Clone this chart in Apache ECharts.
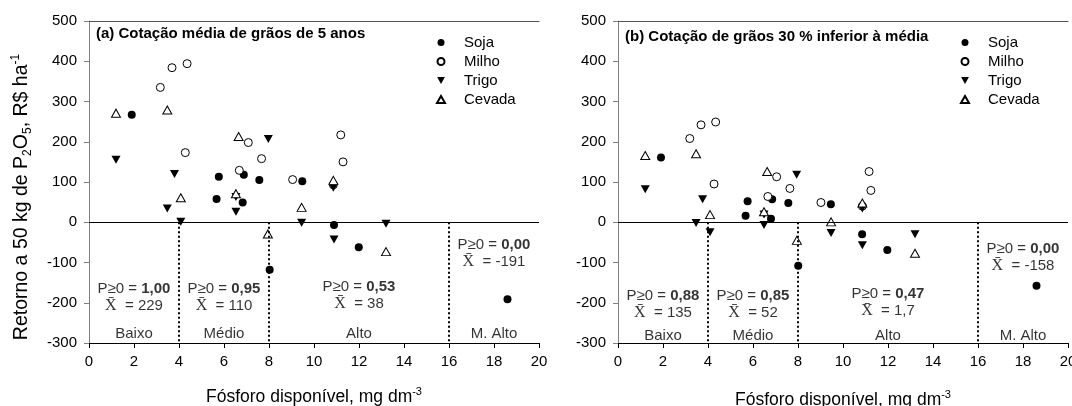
<!DOCTYPE html>
<html><head><meta charset="utf-8">
<script src="https://cdn.jsdelivr.net/npm/echarts/dist/echarts.min.js"></script>
<style>html,body{margin:0;padding:0;background:#fff}#c{width:1072px;height:406px}</style>
</head><body><div id="c"></div>
<script>
// ---- data ----
const categories = ['Soja', 'Milho', 'Trigo', 'Cevada'];
const classNames = ['Baixo', 'Médio', 'Alto', 'M. Alto'];
const classCenters = [2, 6, 12, 18];
const classBounds = [4, 8, 16];
const probA = ['1,00', '0,95', '0,53', '0,00'];
const meanA = ['229', '110', '38', '-191'];
const probB = ['0,88', '0,85', '0,47', '0,00'];
const meanB = ['135', '52', '1,7', '-158'];
const titleA = '(a) Cotação média de grãos de 5 anos';
const titleB = '(b) Cotação de grãos 30 % inferior à média';

const sojaA = [[1.9,267],[5.67,58],[5.77,113],[6.83,49],[6.88,118],[7.57,105],[8.03,-118],[9.48,102],[10.89,-7],[11.99,-62],[18.6,-191]];
const milhoA = [[3.17,335],[3.69,384],[4.36,394],[4.28,173],[6.68,129],[7.08,198],[7.67,158],[9.05,106],[11.19,217],[11.29,150],[10.86,93]];
const trigoA = [[1.2,155],[3.48,34],[3.8,120],[4.08,1],[6.53,26],[6.53,63],[7.97,207],[9.45,-1],[10.86,86],[10.89,-43],[13.2,-4]];
const cevadaA = [[1.2,271],[3.48,279],[4.08,61],[6.53,71],[6.65,213],[7.95,-29],[9.45,37],[10.86,104],[13.2,-73]];

const sojaB = [[1.91,161],[5.67,16],[5.76,52],[6.8,9],[6.85,57],[7.57,48],[8.01,-108],[9.46,45],[10.85,-30],[11.97,-69],[18.6,-158]];
const milhoB = [[3.19,208],[3.69,242],[4.34,249],[4.27,95],[6.66,64],[7.05,113],[7.64,84],[9.02,49],[11.16,126],[11.24,79],[10.86,40]];
const trigoB = [[1.21,82],[3.47,-2],[3.76,57],[4.09,-25],[6.49,-7],[6.49,19],[7.94,118],[9.47,-27],[10.86,34],[10.86,-57],[13.2,-30]];
const cevadaB = [[1.21,166],[3.47,170],[4.09,19],[6.49,26],[6.63,126],[7.95,-45],[9.47,1],[10.86,48],[13.2,-77]];

// ---- styling / layout ----
const FF = 'Liberation Sans, Arial, sans-serif';
const SERIF = 'Liberation Serif, DejaVu Serif, serif';
const sty = {
  Soja:   {symbol: 'circle', symbolSize: 8, itemStyle: {color: '#000', opacity: 1}},
  Milho:  {symbol: 'circle', symbolSize: 8, itemStyle: {color: '#fff', borderColor: '#000', borderWidth: 1, opacity: 1}},
  Trigo:  {symbol: 'path://M0,0L10,0L5,9Z', symbolSize: [9, 8], itemStyle: {color: '#000', opacity: 1}},
  Cevada: {symbol: 'triangle', symbolSize: [9, 8], itemStyle: {color: '#fff', borderColor: '#000', borderWidth: 1, opacity: 1}}
};
const panels = [
  {data: [sojaA, milhoA, trigoA, cevadaA], probs: probA, means: meanA,
   annY: [-187, -187, -182, -77], classY: -278, left: 89, title: titleA, titleTop: 26, legLeft: 436, nameGap: 43},
  {data: [sojaB, milhoB, trigoB, cevadaB], probs: probB, means: meanB,
   annY: [-204, -204, -200, -87], classY: -282, left: 618, title: titleB, titleTop: 29, legLeft: 960, nameGap: 46}
];

const xNameRich = {
  n: {fontSize: 17.5, fontFamily: FF, color: '#000', lineHeight: 22, verticalAlign: 'middle'},
  sup: {fontSize: 11, fontFamily: FF, color: '#000', lineHeight: 11, verticalAlign: 'top'},
  sub: {fontSize: 11, fontFamily: FF, color: '#000', lineHeight: 11, verticalAlign: 'bottom'}
};
const yNameRich = {
  n: {fontSize: 19.5, fontFamily: FF, color: '#000', lineHeight: 24, verticalAlign: 'middle'},
  sup: {fontSize: 12, fontFamily: FF, color: '#000', lineHeight: 12, verticalAlign: 'top'},
  sub: {fontSize: 12, fontFamily: FF, color: '#000', lineHeight: 12, verticalAlign: 'bottom'}
};

const grids = [], xAxes = [], yAxes = [], series = [], titles = [], legends = [];
panels.forEach((p, gi) => {
  grids.push({left: p.left, top: 21, width: 450, height: 322, outerBoundsMode: 'none', containLabel: false});
  xAxes.push({
    type: 'value', gridIndex: gi, min: 0, max: 20, interval: 2, position: 'bottom',
    axisLine: {show: true, onZero: false, lineStyle: {color: '#000', width: 1}},
    axisTick: {show: true, inside: false, length: 5, lineStyle: {color: '#000'}},
    axisLabel: {show: true, fontSize: 15, fontFamily: FF, color: '#000', margin: 11},
    splitLine: {show: false},
    name: '{n|Fósforo disponível, mg dm}{sup|-3}', nameLocation: 'middle', nameGap: p.nameGap,
    nameTextStyle: {rich: xNameRich}
  });
  yAxes.push({
    type: 'value', gridIndex: gi, min: -300, max: 500, interval: 100,
    axisLine: {show: true, onZero: false, lineStyle: {color: '#808080', width: 1}},
    axisTick: {show: true, inside: false, length: 5, lineStyle: {color: '#808080'}},
    axisLabel: {show: true, fontSize: 15, fontFamily: FF, color: '#000', margin: 12},
    splitLine: {show: false},
    name: gi === 0 ? '{n|Retorno a 50 kg de P}{sub|2}{n|O}{sub|5}{n|, R$ ha}{sup|-1}' : '',
    nameLocation: 'middle', nameGap: 55, nameRotate: 90,
    nameTextStyle: {rich: yNameRich, padding: [0, 30, 0, 0]}
  });
  titles.push({text: p.title, left: p.left + 7, top: p.titleTop, padding: 0,
    textStyle: {fontSize: 15, fontWeight: 'bold', fontFamily: FF, color: '#000'}});
  legends.push({
    data: categories, orient: 'vertical', left: p.legLeft, top: 35, padding: 0,
    itemWidth: 8, itemHeight: 7, itemGap: 4, selectedMode: false,
    textStyle: {fontSize: 15, fontFamily: FF, color: '#000', lineHeight: 15, padding: [0, 0, 0, 14]}
  });
  // reference lines
  const ml = [{yAxis: 0, lineStyle: {type: 'solid', color: '#000', width: 1}}];
  classBounds.forEach(b => ml.push([{coord: [b, 0]}, {coord: [b, -300]}]));
  series.push({
    type: 'scatter', name: 'ref' + gi, xAxisIndex: gi, yAxisIndex: gi, data: [], silent: true,
    markLine: {silent: true, symbol: ['none', 'none'], label: {show: false}, animation: false,
      lineStyle: {type: [2, 2.5], color: '#000', width: 2}, emphasis: {disabled: true}, data: ml}
  });
  categories.forEach((c, k) => {
    series.push(Object.assign({type: 'scatter', name: c, xAxisIndex: gi, yAxisIndex: gi,
      data: p.data[k], z: 3, emphasis: {disabled: true}}, JSON.parse(JSON.stringify(sty[c]))));
  });
  // annotations
  series.push({
    type: 'scatter', name: 'ann' + gi, xAxisIndex: gi, yAxisIndex: gi, symbolSize: 1, silent: true,
    itemStyle: {color: 'rgba(0,0,0,0)'},
    label: {show: true, position: 'inside', align: 'center', verticalAlign: 'middle',
      rich: {
        tx: {fontSize: 15, fontFamily: FF, color: '#000', lineHeight: 17},
        bd: {fontSize: 15, fontFamily: FF, fontWeight: 'bold', color: '#000', lineHeight: 17},
        xs: {fontSize: 16, fontFamily: SERIF, color: '#000', lineHeight: 17}
      }},
    data: classCenters.map((cx, k) => ({
      value: [cx, p.annY[k]],
      label: {formatter: '{tx|P≥0 = }{bd|' + p.probs[k] + '}\n{xs|X\u0304}{tx|  = ' + p.means[k] + '}'}
    }))
  });
  series.push({
    type: 'scatter', name: 'cls' + gi, xAxisIndex: gi, yAxisIndex: gi, symbolSize: 1, silent: true,
    itemStyle: {color: 'rgba(0,0,0,0)'},
    label: {show: true, position: 'inside', fontSize: 15, fontFamily: FF, color: '#000',
      formatter: (d) => classNames[d.dataIndex]},
    data: classCenters.map(cx => [cx, p.classY])
  });
});
// top border lines
panels.forEach((p, gi) => {
  xAxes.push({type: 'value', gridIndex: gi, min: 0, max: 20, position: 'top',
    axisLine: {show: true, onZero: false, lineStyle: {color: '#555', width: 1}},
    axisTick: {show: false}, axisLabel: {show: false}, splitLine: {show: false}});
});

const chart = echarts.init(document.getElementById('c'), null, {renderer: 'canvas'});
chart.setOption({
  animation: false,
  backgroundColor: '#fff',
  title: titles, legend: legends, grid: grids, xAxis: xAxes, yAxis: yAxes, series: series
});
</script></body></html>
